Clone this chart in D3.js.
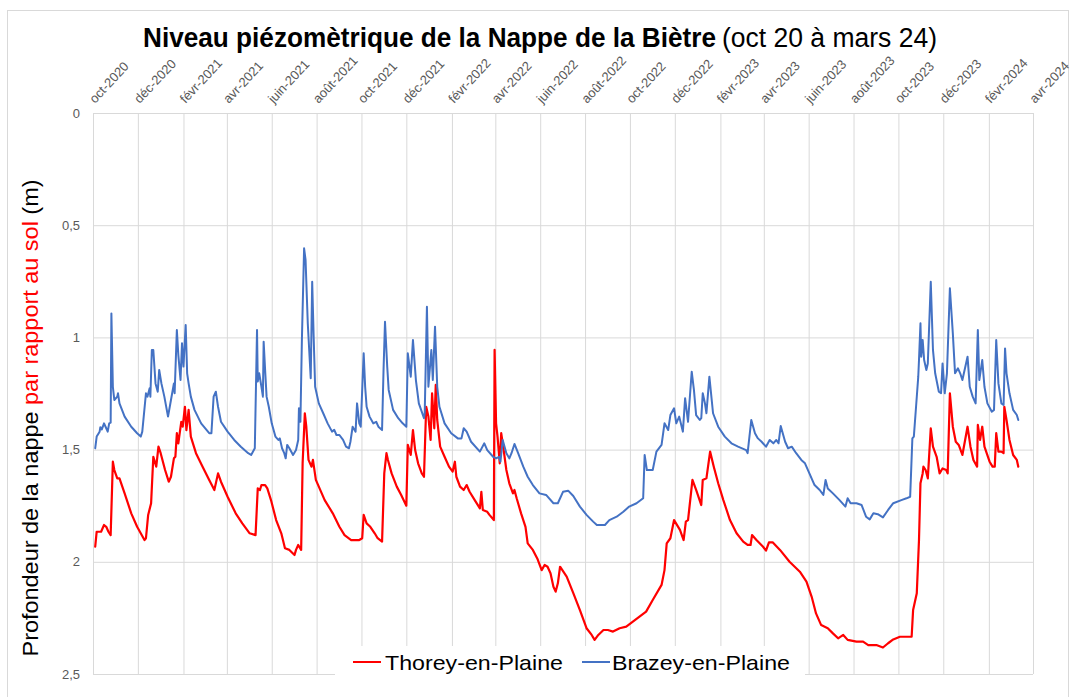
<!DOCTYPE html>
<html>
<head>
<meta charset="utf-8">
<script src="https://cdn.jsdelivr.net/npm/d3@7"></script>
<style>
  html, body { margin: 0; padding: 0; background: #fff; }
  svg { display: block; font-family: "Liberation Sans", Arial, sans-serif; }
</style>
</head>
<body>
<svg id="chart" width="1075" height="697"></svg>
<script>
// ---------- DATA ----------
const tickLabels = ["oct-2020","déc-2020","févr-2021","avr-2021","juin-2021","août-2021","oct-2021","déc-2021",
  "févr-2022","avr-2022","juin-2022","août-2022","oct-2022","déc-2022","févr-2023","avr-2023","juin-2023",
  "août-2023","oct-2023","déc-2023","févr-2024","avr-2024"];
const yTicks = [0, 0.5, 1, 1.5, 2, 2.5];
const yTickLabels = ["0", "0,5", "1", "1,5", "2", "2,5"];
const seriesNames = ["Thorey-en-Plaine", "Brazey-en-Plaine"];

const thorey = [
["2020-10-04",1.933],["2020-10-06",1.866],["2020-10-12",1.866],["2020-10-16",1.836],["2020-10-19",1.844],["2020-10-22",1.866],["2020-10-25",1.881],["2020-10-28",1.554],["2020-10-30",1.591],["2020-11-03",1.628],["2020-11-06",1.628],["2020-11-13",1.695],["2020-11-22",1.784],["2020-11-30",1.844],["2020-12-10",1.903],["2020-12-12",1.895],["2020-12-15",1.791],["2020-12-19",1.739],["2020-12-22",1.532],["2020-12-26",1.576],["2020-12-29",1.487],
["2021-01-01",1.516],["2021-01-07",1.591],["2021-01-12",1.643],["2021-01-15",1.621],["2021-01-19",1.539],["2021-01-21",1.532],["2021-01-23",1.427],["2021-01-25",1.472],["2021-01-29",1.376],["2021-01-31",1.398],["2021-02-03",1.309],["2021-02-05",1.413],["2021-02-08",1.323],["2021-02-11",1.442],["2021-02-18",1.516],["2021-02-27",1.576],["2021-03-08",1.635],["2021-03-15",1.68],["2021-03-20",1.606],["2021-03-24",1.643],["2021-04-02",1.71],["2021-04-13",1.784],["2021-04-22",1.829],["2021-05-02",1.873],["2021-05-10",1.881],["2021-05-13",1.673],["2021-05-16",1.68],["2021-05-18",1.658],["2021-05-23",1.658],["2021-05-26",1.673],["2021-05-31",1.725],["2021-06-07",1.814],["2021-06-14",1.873],["2021-06-19",1.94],["2021-06-25",1.947],["2021-07-02",1.97],["2021-07-04",1.947],["2021-07-07",1.925],["2021-07-11",1.947],["2021-07-13",1.561],["2021-07-16",1.338],["2021-07-18",1.398],["2021-07-21",1.546],["2021-07-25",1.576],["2021-07-27",1.546],["2021-07-31",1.635],["2021-08-12",1.725],["2021-08-23",1.784],["2021-09-01",1.844],["2021-09-08",1.881],["2021-09-17",1.903],["2021-09-28",1.903],["2021-10-02",1.895],["2021-10-04",1.791],["2021-10-08",1.829],["2021-10-13",1.844],["2021-10-19",1.873],["2021-10-23",1.895],["2021-10-29",1.91],["2021-11-01",1.606],["2021-11-04",1.516],["2021-11-06",1.546],["2021-11-11",1.606],["2021-11-18",1.665],["2021-11-24",1.702],["2021-12-01",1.75],["2021-12-03",1.479],["2021-12-07",1.524],["2021-12-10",1.413],["2021-12-13",1.502],["2021-12-17",1.561],["2021-12-22",1.606],["2021-12-25",1.621],["2021-12-28",1.309],["2021-12-31",1.353],
["2022-01-03",1.457],["2022-01-05",1.249],["2022-01-08",1.405],["2022-01-10",1.212],["2022-01-12",1.368],["2022-01-16",1.487],["2022-01-22",1.532],["2022-01-28",1.576],["2022-02-02",1.598],["2022-02-05",1.554],["2022-02-07",1.621],["2022-02-12",1.665],["2022-02-17",1.68],["2022-02-21",1.658],["2022-02-25",1.688],["2022-03-04",1.725],["2022-03-11",1.762],["2022-03-13",1.688],["2022-03-15",1.769],["2022-03-21",1.777],["2022-03-24",1.791],["2022-03-30",1.814],["2022-03-31",1.056],["2022-04-02",1.383],["2022-04-04",1.442],["2022-04-07",1.561],["2022-04-09",1.427],["2022-04-12",1.494],["2022-04-16",1.591],["2022-04-20",1.65],["2022-04-25",1.695],["2022-04-27",1.68],["2022-04-30",1.717],["2022-05-06",1.784],["2022-05-12",1.844],["2022-05-15",1.918],["2022-05-22",1.947],["2022-05-28",1.985],["2022-06-03",2.037],["2022-06-07",2.014],["2022-06-11",2.022],["2022-06-15",2.051],["2022-06-19",2.111],["2022-06-22",2.133],["2022-06-25",2.096],["2022-06-28",2.022],["2022-07-07",2.066],["2022-07-16",2.14],["2022-07-25",2.215],["2022-08-03",2.296],["2022-08-10",2.326],["2022-08-14",2.348],["2022-08-19",2.326],["2022-08-26",2.304],["2022-09-01",2.304],["2022-09-08",2.311],["2022-09-17",2.296],["2022-09-26",2.289],["2022-10-05",2.267],["2022-10-14",2.244],["2022-10-23",2.222],["2022-11-01",2.17],["2022-11-13",2.103],["2022-11-17",2.037],["2022-11-20",1.918],["2022-11-25",1.895],["2022-11-30",1.814],["2022-12-08",1.858],["2022-12-13",1.903],["2022-12-16",1.821],["2022-12-19",1.814],["2022-12-25",1.635],["2022-12-30",1.68],
["2023-01-06",1.747],["2023-01-08",1.635],["2023-01-13",1.628],["2023-01-18",1.509],["2023-01-23",1.576],["2023-01-29",1.65],["2023-02-05",1.725],["2023-02-14",1.814],["2023-02-23",1.873],["2023-03-04",1.91],["2023-03-10",1.925],["2023-03-14",1.925],["2023-03-16",1.881],["2023-03-22",1.903],["2023-03-31",1.933],["2023-04-04",1.95],["2023-04-08",1.913],["2023-04-13",1.913],["2023-04-23",1.947],["2023-05-06",2.0],["2023-05-20",2.044],["2023-05-29",2.088],["2023-06-05",2.155],["2023-06-11",2.23],["2023-06-18",2.282],["2023-06-27",2.296],["2023-07-04",2.319],["2023-07-11",2.341],["2023-07-18",2.326],["2023-07-24",2.348],["2023-08-05",2.356],["2023-08-14",2.356],["2023-08-21",2.371],["2023-09-01",2.371],["2023-09-10",2.382],["2023-09-17",2.363],["2023-09-24",2.346],["2023-10-03",2.334],["2023-10-19",2.334],["2023-10-21",2.215],["2023-10-26",2.14],["2023-10-29",1.903],["2023-10-31",1.65],["2023-11-03",1.606],["2023-11-04",1.576],["2023-11-07",1.591],["2023-11-10",1.628],["2023-11-14",1.405],["2023-11-17",1.487],["2023-11-22",1.532],["2023-11-26",1.606],["2023-11-30",1.584],["2023-12-05",1.591],["2023-12-07",1.606],["2023-12-10",1.249],["2023-12-14",1.398],["2023-12-18",1.465],["2023-12-22",1.479],["2023-12-27",1.524],
["2024-01-03",1.398],["2024-01-07",1.487],["2024-01-11",1.546],["2024-01-16",1.576],["2024-01-17",1.39],["2024-01-20",1.457],["2024-01-23",1.398],["2024-01-26",1.487],["2024-02-02",1.554],["2024-02-06",1.576],["2024-02-09",1.576],["2024-02-11",1.427],["2024-02-14",1.509],["2024-02-18",1.509],["2024-02-21",1.516],["2024-02-22",1.309],["2024-02-25",1.368],["2024-02-29",1.457],["2024-03-05",1.524],["2024-03-10",1.546],["2024-03-12",1.576]
];

const brazey = [
["2020-10-04",1.494],["2020-10-06",1.442],["2020-10-10",1.42],["2020-10-11",1.40],["2020-10-13",1.41],["2020-10-16",1.383],["2020-10-19",1.405],["2020-10-21",1.42],["2020-10-23",1.383],["2020-10-25",1.38],["2020-10-26",0.893],["2020-10-28",1.22],["2020-10-30",1.279],["2020-11-03",1.264],["2020-11-04",1.249],["2020-11-06",1.294],["2020-11-13",1.353],["2020-11-22",1.398],["2020-11-30",1.427],["2020-12-05",1.442],["2020-12-07",1.42],["2020-12-12",1.249],["2020-12-14",1.264],["2020-12-17",1.227],["2020-12-18",1.264],["2020-12-20",1.056],["2020-12-22",1.056],["2020-12-25",1.205],["2020-12-28",1.242],["2020-12-30",1.145],
["2021-01-02",1.205],["2021-01-06",1.264],["2021-01-11",1.353],["2021-01-15",1.279],["2021-01-19",1.205],["2021-01-20",1.249],["2021-01-23",0.967],["2021-01-25",1.078],["2021-01-28",1.19],["2021-01-30",1.026],["2021-02-01",1.13],["2021-02-04",0.945],["2021-02-06",1.16],["2021-02-08",1.205],["2021-02-11",1.264],["2021-02-16",1.323],["2021-02-25",1.383],["2021-03-08",1.427],["2021-03-11",1.427],["2021-03-14",1.264],["2021-03-17",1.242],["2021-03-20",1.309],["2021-03-24",1.376],["2021-04-02",1.42],["2021-04-11",1.457],["2021-04-20",1.487],["2021-04-25",1.502],["2021-04-30",1.516],["2021-05-04",1.524],["2021-05-09",1.494],["2021-05-12",0.967],["2021-05-13",1.197],["2021-05-15",1.16],["2021-05-18",1.22],["2021-05-20",1.264],["2021-05-21",1.019],["2021-05-23",1.145],["2021-05-25",1.264],["2021-05-28",1.309],["2021-06-01",1.383],["2021-06-06",1.442],["2021-06-10",1.457],["2021-06-12",1.45],["2021-06-15",1.494],["2021-06-18",1.516],["2021-06-20",1.539],["2021-06-22",1.479],["2021-06-25",1.494],["2021-06-30",1.524],["2021-07-04",1.502],["2021-07-07",1.457],["2021-07-08",1.316],["2021-07-10",1.376],["2021-07-12",1.012],["2021-07-15",0.603],["2021-07-17",0.655],["2021-07-20",0.937],["2021-07-24",1.182],["2021-07-26",0.752],["2021-07-28",0.997],["2021-07-30",1.22],["2021-08-04",1.294],["2021-08-10",1.338],["2021-08-16",1.383],["2021-08-22",1.42],["2021-08-25",1.412],["2021-08-28",1.435],["2021-09-01",1.435],["2021-09-06",1.457],["2021-09-10",1.487],["2021-09-14",1.494],["2021-09-16",1.465],["2021-09-19",1.398],["2021-09-23",1.42],["2021-09-25",1.294],["2021-09-28",1.383],["2021-09-30",1.398],
["2021-10-04",1.071],["2021-10-06",1.22],["2021-10-08",1.309],["2021-10-12",1.353],["2021-10-17",1.383],["2021-10-21",1.376],["2021-10-24",1.398],["2021-10-29",1.413],["2021-10-31",1.145],["2021-11-02",0.93],["2021-11-05",1.13],["2021-11-07",1.234],["2021-11-13",1.323],["2021-11-20",1.36],["2021-11-26",1.383],["2021-12-01",1.398],["2021-12-03",1.071],["2021-12-07",1.175],["2021-12-10",1.012],["2021-12-14",1.19],["2021-12-18",1.294],["2021-12-25",1.36],["2021-12-26",1.338],["2021-12-29",0.863],["2021-12-31",1.22],
["2022-01-04",1.056],["2022-01-06",1.19],["2022-01-09",0.952],["2022-01-12",1.22],["2022-01-15",1.309],["2022-01-22",1.383],["2022-01-31",1.427],["2022-02-09",1.45],["2022-02-14",1.45],["2022-02-17",1.405],["2022-02-21",1.42],["2022-02-27",1.465],["2022-03-11",1.509],["2022-03-17",1.472],["2022-03-21",1.502],["2022-03-29",1.532],["2022-04-02",1.539],["2022-04-06",1.532],["2022-04-08",1.554],["2022-04-11",1.457],["2022-04-16",1.516],["2022-04-20",1.539],["2022-04-23",1.516],["2022-04-27",1.475],["2022-05-02",1.516],["2022-05-09",1.576],["2022-05-15",1.621],["2022-05-22",1.658],["2022-05-31",1.695],["2022-06-09",1.702],["2022-06-19",1.739],["2022-06-25",1.739],["2022-07-02",1.688],["2022-07-09",1.683],["2022-07-16",1.707],["2022-07-25",1.754],["2022-08-03",1.791],["2022-08-12",1.821],["2022-08-17",1.836],["2022-08-28",1.836],["2022-09-03",1.814],["2022-09-13",1.799],["2022-09-22",1.777],["2022-09-30",1.754],["2022-10-10",1.739],["2022-10-19",1.717],["2022-10-21",1.524],["2022-10-24",1.591],["2022-11-01",1.591],["2022-11-06",1.509],["2022-11-13",1.479],["2022-11-17",1.383],["2022-11-22",1.413],["2022-11-25",1.346],["2022-11-30",1.316],["2022-12-03",1.383],["2022-12-07",1.353],["2022-12-12",1.42],["2022-12-15",1.271],["2022-12-19",1.376],["2022-12-24",1.153],["2022-12-27",1.234],["2022-12-30",1.346],
["2023-01-04",1.368],["2023-01-06",1.36],["2023-01-08",1.249],["2023-01-11",1.294],["2023-01-13",1.338],["2023-01-17",1.175],["2023-01-22",1.338],["2023-01-29",1.398],["2023-02-07",1.442],["2023-02-16",1.472],["2023-02-25",1.487],["2023-03-08",1.502],["2023-03-10",1.516],["2023-03-15",1.368],["2023-03-20",1.427],["2023-03-24",1.45],["2023-03-29",1.465],["2023-04-04",1.487],["2023-04-09",1.457],["2023-04-14",1.472],["2023-04-18",1.457],["2023-04-21",1.472],["2023-04-24",1.395],["2023-04-30",1.465],["2023-05-04",1.494],["2023-05-09",1.487],["2023-05-15",1.516],["2023-05-22",1.546],["2023-05-27",1.561],["2023-06-02",1.606],["2023-06-09",1.658],["2023-06-16",1.68],["2023-06-21",1.702],["2023-06-24",1.635],["2023-06-27",1.673],["2023-07-04",1.695],["2023-07-13",1.725],["2023-07-21",1.754],["2023-07-24",1.717],["2023-07-28",1.739],["2023-08-05",1.739],["2023-08-12",1.747],["2023-08-18",1.799],["2023-08-23",1.811],["2023-08-28",1.784],["2023-09-03",1.788],["2023-09-10",1.802],["2023-09-17",1.769],["2023-09-24",1.739],["2023-10-05",1.725],["2023-10-12",1.717],["2023-10-17",1.71],["2023-10-20",1.45],["2023-10-22",1.442],["2023-10-25",1.309],["2023-10-28",1.175],["2023-10-29",1.101],["2023-10-31",0.937],["2023-11-01",1.086],["2023-11-03",1.012],["2023-11-05",1.101],["2023-11-08",1.145],["2023-11-10",1.116],["2023-11-14",0.752],["2023-11-17",1.056],["2023-11-20",1.16],["2023-11-25",1.242],["2023-11-28",1.249],["2023-11-30",1.116],["2023-12-03",1.249],["2023-12-06",1.16],["2023-12-10",0.781],["2023-12-14",0.982],["2023-12-17",1.16],["2023-12-21",1.138],["2023-12-24",1.16],["2023-12-27",1.19],
["2024-01-03",1.086],["2024-01-06",1.22],["2024-01-10",1.264],["2024-01-14",1.294],["2024-01-17",0.967],["2024-01-19",1.19],["2024-01-23",1.101],["2024-01-26",1.22],["2024-01-30",1.294],["2024-02-05",1.331],["2024-02-08",1.323],["2024-02-11",1.012],["2024-02-14",1.205],["2024-02-18",1.294],["2024-02-21",1.301],["2024-02-23",1.049],["2024-02-25",1.16],["2024-02-29",1.249],["2024-03-05",1.323],["2024-03-10",1.346],["2024-03-12",1.368]
];

// ---------- CHART ----------
const parse = d3.timeParse("%Y-%m-%d");
const svg = d3.select("#chart");

const plot = { left: 93, right: 1033, top: 113, bottom: 674 };
const x = d3.scaleTime()
  .domain([parse("2020-10-01"), parse("2024-04-01")])
  .range([plot.left, plot.right]);
const y = d3.scaleLinear().domain([0, 2.5]).range([plot.top, plot.bottom]);
const tickDates = d3.timeMonth.range(parse("2020-10-01"), parse("2024-04-02"), 2);

// outer border
svg.append("rect").attr("x", 7.5).attr("y", 10.5).attr("width", 1061).attr("height", 700)
  .attr("fill", "#fff").attr("stroke", "#d9d9d9").attr("stroke-width", 1);

// gridlines
const grid = svg.append("g");
grid.append("g")
  .attr("transform", `translate(0,${plot.top})`)
  .call(d3.axisTop(x).tickValues(tickDates).tickSize(-(plot.bottom - plot.top)).tickFormat(""))
  .call(g => g.select(".domain").remove())
  .call(g => g.selectAll("line").attr("stroke", "#d9d9d9"));
grid.append("g")
  .attr("transform", `translate(${plot.left},0)`)
  .call(d3.axisLeft(y).tickValues(yTicks).tickSize(-(plot.right - plot.left)).tickFormat(""))
  .call(g => g.select(".domain").remove())
  .call(g => g.selectAll("line").attr("stroke", "#d9d9d9"));

// top axis labels (rotated)
svg.append("g").selectAll("text").data(tickDates).join("text")
  .attr("transform", d => `translate(${x(d) + 2},${plot.top - 9}) rotate(-47)`)
  .attr("text-anchor", "start")
  .attr("font-size", 13)
  .attr("fill", "#595959")
  .text((d, i) => tickLabels[i]);

// y tick labels
svg.append("g").selectAll("text").data(yTicks).join("text")
  .attr("x", 80).attr("y", d => y(d)).attr("dy", "0.35em")
  .attr("text-anchor", "end").attr("font-size", 13).attr("fill", "#595959")
  .text((d, i) => yTickLabels[i]);

// lines
const line = d3.line().x(d => x(parse(d[0]))).y(d => y(d[1]));
svg.append("path").datum(thorey).attr("d", line)
  .attr("fill", "none").attr("stroke", "#ff0000").attr("stroke-width", 2.2)
  .attr("stroke-linejoin", "round").attr("stroke-linecap", "round");
svg.append("path").datum(brazey).attr("d", line)
  .attr("fill", "none").attr("stroke", "#4472c4").attr("stroke-width", 2)
  .attr("stroke-linejoin", "round").attr("stroke-linecap", "round");

// title
svg.append("text").attr("x", 143).attr("y", 47)
  .attr("font-size", 27).attr("font-weight", "bold").attr("fill", "#000")
  .attr("textLength", 573).attr("lengthAdjust", "spacingAndGlyphs")
  .text("Niveau piézomètrique de la Nappe de la Biètre");
svg.append("text").attr("x", 722).attr("y", 47)
  .attr("font-size", 27).attr("fill", "#000")
  .attr("textLength", 215).attr("lengthAdjust", "spacingAndGlyphs")
  .text("(oct 20 à mars 24)");

// y axis title
const yt = svg.append("text")
  .attr("transform", "translate(38,418) rotate(-90)")
  .attr("text-anchor", "middle").attr("font-size", 22)
  .attr("textLength", 477).attr("lengthAdjust", "spacingAndGlyphs");
yt.append("tspan").attr("fill", "#000").text("Profondeur de la nappe ");
yt.append("tspan").attr("fill", "#ff0000").text("par rapport au sol");
yt.append("tspan").attr("fill", "#000").text(" (m)");

// legend
const lg = svg.append("g");
lg.append("rect").attr("x", 335).attr("y", 646).attr("width", 470).attr("height", 40).attr("fill", "#fff");
const legendItems = [
  { name: seriesNames[0], color: "#ff0000", x0: 353, tx: 385 },
  { name: seriesNames[1], color: "#4472c4", x0: 582, tx: 612 }
];
legendItems.forEach(it => {
  lg.append("line").attr("x1", it.x0).attr("x2", it.x0 + 28).attr("y1", 662).attr("y2", 662)
    .attr("stroke", it.color).attr("stroke-width", 2);
  lg.append("text").attr("x", it.tx).attr("y", 670).attr("font-size", 21).attr("fill", "#000")
    .attr("textLength", 178).attr("lengthAdjust", "spacingAndGlyphs").text(it.name);
});
</script>
</body>
</html>
